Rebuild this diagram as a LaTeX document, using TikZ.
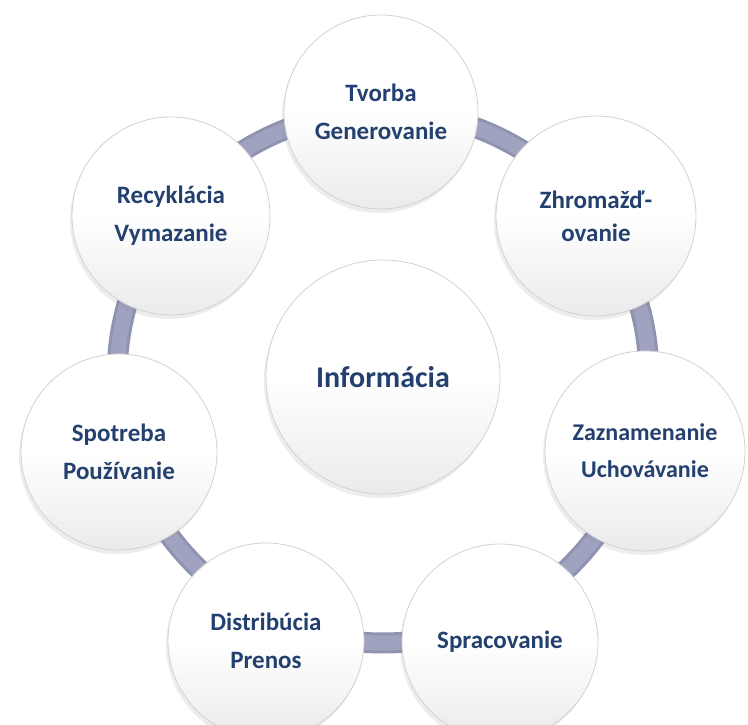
\documentclass[tikz,border=0pt]{standalone}
\usepackage{fontspec}
\setmainfont{Carlito}
\usetikzlibrary{shadows}
\definecolor{txt}{HTML}{23406F}
\definecolor{ringA}{HTML}{8E93B0}
\definecolor{ringB}{HTML}{9FA3BF}
\begin{document}
\begin{tikzpicture}[x=1pt,y=1pt,
  bubble/.style={circle, draw=gray!35, line width=0.8pt,
    top color=white, bottom color=gray!16, middle color=white,
    text=txt, font=\bfseries\fontsize{25}{38}\selectfont,
    align=center, inner sep=0pt,
    drop shadow={opacity=0.14, shadow xshift=-2pt, shadow yshift=-4pt}},
  ringout/.style={line width=21pt, draw=ringA},
  ringin/.style={line width=15pt, draw=ringB}]
\useasboundingbox (0,0) rectangle (748,724);
\fill[white] (0,0) rectangle (748,724);
\clip (0,0) rectangle (748,724);
% centre
\node[bubble, minimum size=234pt, font=\bfseries\fontsize{30}{36}\selectfont] (info) at (383,347) {Informácia};
% ring
\draw[ringout] (info.center) circle (266pt);
\draw[ringin] (info.center) circle (266pt);
% outer nodes
\node[bubble, minimum size=194pt] (tv) at (381,612) {Tvorba\\Generovanie};
\node[bubble, minimum size=200pt, font=\bfseries\fontsize{25}{33}\selectfont] (zh) at (596,508) {Zhromažď-\\ovanie};
\node[bubble, minimum size=200pt, font=\bfseries\fontsize{24}{37}\selectfont] (za) at (645,273) {Zaznamenanie\\Uchovávanie};
\node[bubble, minimum size=196pt] (sp) at (500,82) {Spracovanie};
\node[bubble, minimum size=196pt] (di) at (266,83) {Distribúcia\\Prenos};
\node[bubble, minimum size=196pt] (po) at (119,272) {Spotreba\\Používanie};
\node[bubble, minimum size=198pt] (re) at (171,508) {Recyklácia\\Vymazanie};
\end{tikzpicture}
\end{document}
